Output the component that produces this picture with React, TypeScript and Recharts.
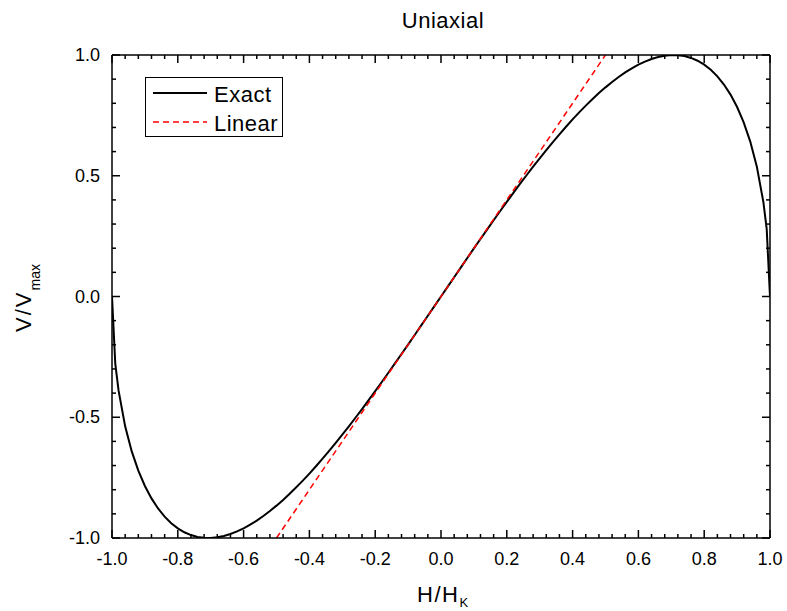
import { LineChart, Line, XAxis, YAxis, Legend, Customized } from 'recharts';

const FONT = '"Liberation Sans", Arial, Helvetica, sans-serif';

// H/H_K sample positions and normalised V/V_max
const hExact = [
  -1, -0.99, -0.98, -0.96, -0.94, -0.92, -0.9, -0.88, -0.86, -0.84, -0.82, -0.8,
  -0.78, -0.76, -0.74, -0.72, -0.7, -0.68, -0.66, -0.64, -0.62, -0.6, -0.58, -0.56,
  -0.54, -0.52, -0.5, -0.48, -0.46, -0.44, -0.42, -0.4, -0.38, -0.36, -0.34, -0.32,
  -0.3, -0.28, -0.26, -0.24, -0.22, -0.2, -0.18, -0.16, -0.14, -0.12, -0.1, -0.08,
  -0.06, -0.04, -0.02, 0, 0.02, 0.04, 0.06, 0.08, 0.1, 0.12, 0.14, 0.16, 0.18, 0.2,
  0.22, 0.24, 0.26, 0.28, 0.3, 0.32, 0.34, 0.36, 0.38, 0.4, 0.42, 0.44, 0.46, 0.48,
  0.5, 0.52, 0.54, 0.56, 0.58, 0.6, 0.62, 0.64, 0.66, 0.68, 0.7, 0.72, 0.74, 0.76,
  0.78, 0.8, 0.82, 0.84, 0.86, 0.88, 0.9, 0.92, 0.94, 0.96, 0.98, 0.99, 1,
];
const vExact = [
  0, -0.2793, -0.39, -0.5376, -0.6414, -0.7211, -0.7846, -0.8359, -0.8777, -0.9116, -0.9387, -0.96,
  -0.9762, -0.9879, -0.9955, -0.9993, -0.9998, -0.9972, -0.9917, -0.9835, -0.9729, -0.96, -0.945, -0.9279,
  -0.909, -0.8883, -0.866, -0.8422, -0.8169, -0.7902, -0.7623, -0.7332, -0.703, -0.6717, -0.6395, -0.6063,
  -0.5724, -0.5376, -0.5021, -0.466, -0.4292, -0.3919, -0.3541, -0.3159, -0.2772, -0.2383, -0.199, -0.1595,
  -0.1198, -0.0799, -0.04, 0, 0.04, 0.0799, 0.1198, 0.1595, 0.199, 0.2383, 0.2772, 0.3159, 0.3541, 0.3919,
  0.4292, 0.466, 0.5021, 0.5376, 0.5724, 0.6063, 0.6395, 0.6717, 0.703, 0.7332, 0.7623, 0.7902, 0.8169, 0.8422,
  0.866, 0.8883, 0.909, 0.9279, 0.945, 0.96, 0.9729, 0.9835, 0.9917, 0.9972, 0.9998, 0.9993, 0.9955, 0.9879,
  0.9762, 0.96, 0.9387, 0.9116, 0.8777, 0.8359, 0.7846, 0.7211, 0.6414, 0.5376, 0.39, 0.2793, 0,
];

// linear approximation end points
const hLinear = [-0.5, 0.5];
const vLinear = [-1, 1];

// ticks: x major every 0.2 (4 minor between), y major every 0.5 (4 minor between)
const xTicks = Array.from({ length: 51 }, (_, i) => Math.round((-1 + i * 0.04) * 100) / 100);
const yTicks = Array.from({ length: 21 }, (_, i) => Math.round((-1 + i * 0.1) * 10) / 10);

const exactData = hExact.map((h, i) => ({ h, v: vExact[i] }));
const linearData = hLinear.map((h, i) => ({ h, v: vLinear[i] }));

const isMajor = (v: number, step: number) => Math.abs(v / step - Math.round(v / step)) < 1e-6;
const fmt = (v: number) => (Math.abs(v) < 1e-9 ? 0 : v).toFixed(1);

// chart box
const W = 787;
const H = 611;
const margin = { top: 45, right: 7, bottom: 33, left: 52 };
const LEFT_W = 60;
const RIGHT_W = 10;
const BOTTOM_H = 40;
const TOP_H = 10;
const PLOT_L = margin.left + LEFT_W;
const PLOT_R = W - margin.right - RIGHT_W;
const PLOT_T = margin.top + TOP_H;
const PLOT_B = H - margin.bottom - BOTTOM_H;

const MAJOR = 8;
const MINOR = 4;

// bottom axis tick, mirrored onto the top frame
const BottomTick = ({ x, payload }: any) => {
  const len = isMajor(payload.value, 0.2) ? MAJOR : MINOR;
  return (
    <g>
      <line x1={x} x2={x} y1={PLOT_B} y2={PLOT_B - len} stroke="#000" strokeWidth={1.5} />
      <line x1={x} x2={x} y1={PLOT_T} y2={PLOT_T + len} stroke="#000" strokeWidth={1.5} />
      {len === MAJOR && (
        <text x={x} y={PLOT_B + 27} textAnchor="middle" fontFamily={FONT} fontSize={18} fill="#000">
          {fmt(payload.value)}
        </text>
      )}
    </g>
  );
};

// left axis tick, mirrored onto the right frame
const LeftTick = ({ y, payload }: any) => {
  const len = isMajor(payload.value, 0.5) ? MAJOR : MINOR;
  return (
    <g>
      <line x1={PLOT_L} x2={PLOT_L + len} y1={y} y2={y} stroke="#000" strokeWidth={1.5} />
      <line x1={PLOT_R} x2={PLOT_R - len} y1={y} y2={y} stroke="#000" strokeWidth={1.5} />
      {len === MAJOR && (
        <text x={PLOT_L - 12} y={y + 6} textAnchor="end" fontFamily={FONT} fontSize={18} fill="#000">
          {fmt(payload.value)}
        </text>
      )}
    </g>
  );
};

const Titles = () => (
  <g fontFamily={FONT} fill="#000">
    <text x={443} y={28} textAnchor="middle" fontSize={22} letterSpacing={0.5}>
      Uniaxial
    </text>
    <text x={417} y={602} fontSize={22} letterSpacing={1.5}>
      H/H<tspan fontSize={13} dy={5} letterSpacing={0}>K</tspan>
    </text>
    <text transform="translate(31,332) rotate(-90)" fontSize={22} letterSpacing={2}>
      V/V<tspan fontSize={14} dy={9} letterSpacing={0}>max</tspan>
    </text>
  </g>
);

const LegendBox = () => (
  <div style={{ border: '1px solid #000', width: 136, height: 58, background: '#fff' }}>
    <svg width={136} height={58} style={{ display: 'block' }}>
      <line x1={7} x2={61} y1={15} y2={15} stroke="#000" strokeWidth={2} />
      <text x={68} y={24} fontFamily={FONT} fontSize={22} fill="#000" letterSpacing={0.5}>
        Exact
      </text>
      <line x1={7} x2={61} y1={44} y2={44} stroke="#ff0000" strokeWidth={1.5} strokeDasharray="6 4" />
      <text x={68} y={53} fontFamily={FONT} fontSize={22} fill="#000" letterSpacing={0.5}>
        Linear
      </text>
    </svg>
  </div>
);

const axisLine = { stroke: '#000', strokeWidth: 1.5 };

export default function App() {
  return (
    <div style={{ position: 'absolute', left: 0, top: 0, background: '#fff' }}>
      <LineChart width={W} height={H} margin={margin}>
        <XAxis
          xAxisId="b"
          dataKey="h"
          type="number"
          domain={[-1, 1]}
          ticks={xTicks}
          interval={0}
          orientation="bottom"
          height={BOTTOM_H}
          tickLine={false}
          axisLine={axisLine}
          tick={BottomTick}
          allowDataOverflow
        />
        <XAxis
          xAxisId="t"
          dataKey="h"
          type="number"
          domain={[-1, 1]}
          orientation="top"
          height={TOP_H}
          tickLine={false}
          axisLine={axisLine}
          tick={false}
        />
        <YAxis
          yAxisId="l"
          type="number"
          domain={[-1, 1]}
          ticks={yTicks}
          interval={0}
          orientation="left"
          width={LEFT_W}
          tickLine={false}
          axisLine={axisLine}
          tick={LeftTick}
          allowDataOverflow
        />
        <YAxis
          yAxisId="r"
          type="number"
          domain={[-1, 1]}
          orientation="right"
          width={RIGHT_W}
          tickLine={false}
          axisLine={axisLine}
          tick={false}
        />
        <Line
          xAxisId="b"
          yAxisId="l"
          data={exactData}
          dataKey="v"
          name="Exact"
          type="linear"
          stroke="#000"
          strokeWidth={2}
          dot={false}
          isAnimationActive={false}
        />
        <Line
          xAxisId="b"
          yAxisId="l"
          data={linearData}
          dataKey="v"
          name="Linear"
          type="linear"
          stroke="#ff0000"
          strokeWidth={1.5}
          strokeDasharray="6 4"
          dot={false}
          isAnimationActive={false}
        />
        <Legend
          layout="horizontal"
          verticalAlign="middle"
          align="center"
          content={LegendBox}
          wrapperStyle={{ left: 145, top: 77, width: 'auto', height: 'auto' }}
        />
        <Customized component={Titles} />
      </LineChart>
    </div>
  );
}
